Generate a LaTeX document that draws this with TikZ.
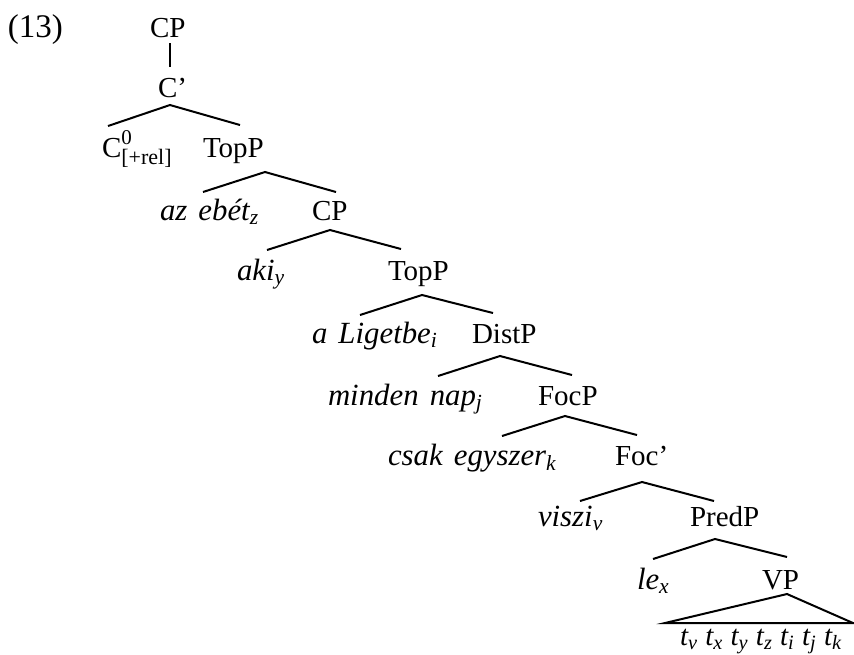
\documentclass[tikz,border=0pt]{standalone}
\usepackage{fontspec}
\setmainfont{Liberation Serif}
\newcommand{\sbs}[1]{\textsubscript{#1}}
\newcommand{\wsp}{\hspace{0.36em}}
\begin{document}
\begin{tikzpicture}[x=0.5pt,y=-0.5pt,
  lbl/.style={anchor=base west,inner sep=0pt,outer sep=0pt,font=\fontsize{14.5}{17}\selectfont},
  ital/.style={lbl,font=\fontsize{15.4}{18}\selectfont\itshape},
  branch/.style={line width=1pt,line join=miter}]
\useasboundingbox (0,0) rectangle (854,654);
% labels
\node[lbl,font=\fontsize{16.5}{19}\selectfont] (n13) at (8,37) {(13)};
\node[lbl] (cp1) at (150,37) {CP};
\node[lbl] (cbar) at (158,97) {C’};
\node[lbl] (c0) at (102,157) {C\rlap{\raisebox{6.5pt}{\fontsize{10.5}{11}\selectfont 0}}\raisebox{-3.5pt}{\fontsize{11}{12}\selectfont [+rel]}};
\node[lbl] (top1) at (203,157) {TopP};
\node[ital] (az) at (160,220) {az\wsp ebét\sbs{z}};
\node[lbl] (cp2) at (312,220) {CP};
\node[ital] (aki) at (237,280) {aki\sbs{y}};
\node[lbl] (top2) at (388,280) {TopP};
\node[ital] (lig) at (312,343) {a\wsp Ligetbe\sbs{i}};
\node[lbl] (dist) at (472,343) {DistP};
\node[ital] (minden) at (328,405) {minden\wsp nap\sbs{j}};
\node[lbl] (focp) at (538,405) {FocP};
\node[ital] (csak) at (388,465) {csak\wsp egyszer\sbs{k}};
\node[lbl] (focbar) at (615,465) {Foc’};
\node[ital] (viszi) at (538,526) {viszi\sbs{v}};
\node[lbl] (pred) at (690,526) {PredP};
\node[ital] (le) at (637,589) {le\sbs{x}};
\node[lbl] (vp) at (762,589) {VP};
\node[lbl] (tr) at (680,645) {\textit{t\sbs{v} t\sbs{x} t\sbs{y} t\sbs{z} t\sbs{i} t\sbs{j} t\sbs{k}}};
% branch points
\coordinate (u1) at (170,43); \coordinate (u2) at (170,67);
\coordinate (a1) at (170,105); \coordinate (l1) at (108,126); \coordinate (r1) at (240,125);
\coordinate (a2) at (265,172); \coordinate (l2) at (203,192); \coordinate (r2) at (336,192);
\coordinate (a3) at (330,230); \coordinate (l3) at (267,250); \coordinate (r3) at (401,249);
\coordinate (a4) at (422,295); \coordinate (l4) at (360,315); \coordinate (r4) at (493,313);
\coordinate (a5) at (500,356); \coordinate (l5) at (438,376); \coordinate (r5) at (572,375);
\coordinate (a6) at (565,416); \coordinate (l6) at (502,436); \coordinate (r6) at (637,435);
\coordinate (a7) at (642,482); \coordinate (l7) at (580,501); \coordinate (r7) at (714,501);
\coordinate (a8) at (715,539); \coordinate (l8) at (653,559); \coordinate (r8) at (787,557);
\coordinate (a9) at (787,594); \coordinate (l9) at (665,623); \coordinate (r9) at (853,623);
% branches
\draw[branch] (u1) -- (u2);
\draw[branch] (l1) -- (a1) -- (r1);
\draw[branch] (l2) -- (a2) -- (r2);
\draw[branch] (l3) -- (a3) -- (r3);
\draw[branch] (l4) -- (a4) -- (r4);
\draw[branch] (l5) -- (a5) -- (r5);
\draw[branch] (l6) -- (a6) -- (r6);
\draw[branch] (l7) -- (a7) -- (r7);
\draw[branch] (l8) -- (a8) -- (r8);
\draw[branch] (l9) -- (a9) -- (r9) -- cycle;
\end{tikzpicture}
\end{document}
